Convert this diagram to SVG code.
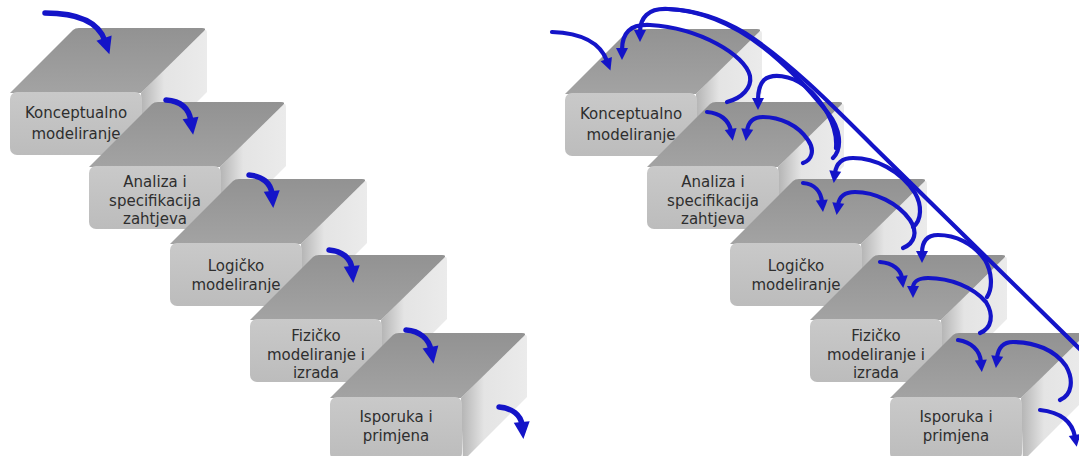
<svg xmlns="http://www.w3.org/2000/svg" width="1079" height="456" viewBox="0 0 1079 456">
<style>
  .lbl { font-family: "DejaVu Sans", "Liberation Sans", sans-serif; font-size: 15px; fill: #2e2e2e; text-anchor: middle; }
  .arr { fill: none; stroke: #1414c8; stroke-width: 5.5; stroke-linecap: round; }
  .arr-s { fill: none; stroke: #1414c8; stroke-width: 4.2; stroke-linecap: round; }
</style>
<defs>
  <linearGradient id="gTop" x1="0" y1="0" x2="0" y2="1">
    <stop offset="0" stop-color="#929292"/>
    <stop offset="1" stop-color="#a3a3a3"/>
  </linearGradient>
  <linearGradient id="gSide" x1="0" y1="0" x2="1" y2="0">
    <stop offset="0" stop-color="#b4b4b4"/>
    <stop offset="0.35" stop-color="#e4e4e4"/>
    <stop offset="1" stop-color="#ebebeb"/>
  </linearGradient>
  <linearGradient id="gFront" x1="0" y1="0" x2="0" y2="1">
    <stop offset="0" stop-color="#c9c9c9"/>
    <stop offset="1" stop-color="#bcbcbc"/>
  </linearGradient>
  <marker id="headL" markerUnits="userSpaceOnUse" markerWidth="18" markerHeight="18" refX="3" refY="8" orient="auto" overflow="visible">
    <path d="M0,0 L17,8 L0,16 Z" fill="#1414c8"/>
  </marker>
  <marker id="headS" markerUnits="userSpaceOnUse" markerWidth="14" markerHeight="14" refX="2" refY="6" orient="auto" overflow="visible">
    <path d="M0,0 L12,6 L0,12 Z" fill="#1414c8"/>
  </marker>
  <!-- one stair block: side face, top face, front face (origin = front top-left) -->
  <g id="block">
    <path d="M131,1 L194,-61 Q197,-64 197,-58 L197,0 L133,64 Z" fill="url(#gSide)"/>
    <path d="M0,1 L63,-62 Q65,-64 69,-64 L192,-64 Q197,-64 194,-61 L131,1 Z" fill="url(#gTop)"/>
    <rect x="0" y="0" width="132" height="63" rx="7" fill="url(#gFront)"/>
  </g>
</defs>

<rect width="1079" height="456" fill="#ffffff"/>

<!-- left staircase -->
<g id="step-l1">
  <use href="#block" transform="translate(10,92)"/>
  <text class="lbl"><tspan x="76" y="118">Konceptualno</tspan><tspan x="76" y="139">modeliranje</tspan></text>
</g>
<g id="step-l2">
  <use href="#block" transform="translate(89,166)"/>
  <text class="lbl"><tspan x="155" y="187">Analiza i</tspan><tspan x="155" y="206">specifikacija</tspan><tspan x="155" y="224">zahtjeva</tspan></text>
</g>
<g id="step-l3">
  <use href="#block" transform="translate(170,243)"/>
  <text class="lbl"><tspan x="236" y="271">Logičko</tspan><tspan x="236" y="290">modeliranje</tspan></text>
</g>
<g id="step-l4">
  <use href="#block" transform="translate(250,319)"/>
  <text class="lbl"><tspan x="316" y="341">Fizičko</tspan><tspan x="316" y="360">modeliranje i</tspan><tspan x="316" y="378">izrada</tspan></text>
</g>
<g id="step-l5">
  <use href="#block" transform="translate(330,397)"/>
  <text class="lbl"><tspan x="396" y="422">Isporuka i</tspan><tspan x="396" y="441">primjena</tspan></text>
</g>

<!-- right staircase -->
<g id="step-r1">
  <use href="#block" transform="translate(565,93)"/>
  <text class="lbl"><tspan x="631" y="119">Konceptualno</tspan><tspan x="631" y="140">modeliranje</tspan></text>
</g>
<g id="step-r2">
  <use href="#block" transform="translate(647,166)"/>
  <text class="lbl"><tspan x="713" y="187">Analiza i</tspan><tspan x="713" y="206">specifikacija</tspan><tspan x="713" y="224">zahtjeva</tspan></text>
</g>
<g id="step-r3">
  <use href="#block" transform="translate(730,243)"/>
  <text class="lbl"><tspan x="796" y="271">Logičko</tspan><tspan x="796" y="290">modeliranje</tspan></text>
</g>
<g id="step-r4">
  <use href="#block" transform="translate(810,319)"/>
  <text class="lbl"><tspan x="876" y="341">Fizičko</tspan><tspan x="876" y="360">modeliranje i</tspan><tspan x="876" y="378">izrada</tspan></text>
</g>
<g id="step-r5">
  <use href="#block" transform="translate(890,397)"/>
  <text class="lbl"><tspan x="956" y="422">Isporuka i</tspan><tspan x="956" y="441">primjena</tspan></text>
</g>

<!-- connectors -->
<g id="connectors">
  <!-- left: forward flow -->
  <path class="arr" marker-end="url(#headL)" d="M45,13 C75,13 98,20 105,41"/>
  <path class="arr" marker-end="url(#headL)" d="M166,100 C180,101 189,108 191,121"/>
  <path class="arr" marker-end="url(#headL)" d="M249,175 C262,176 271,183 272,194"/>
  <path class="arr" marker-end="url(#headL)" d="M329,250 C342,251 351,258 352,269"/>
  <path class="arr" marker-end="url(#headL)" d="M406,330 C420,331 429,339 431,350"/>
  <path class="arr" marker-end="url(#headL)" d="M499,407 C512,408 521,415 522,425"/>

  <!-- right: forward flow -->
  <path class="arr-s" marker-end="url(#headS)" d="M552,32 C580,33 600,42 607,61"/>
  <path class="arr-s" marker-end="url(#headS)" d="M707,112 C720,113 729,120 731,131"/>
  <path class="arr-s" marker-end="url(#headS)" d="M803,183 C815,184 821,192 822,202"/>
  <path class="arr-s" marker-end="url(#headS)" d="M880,262 C893,263 901,270 902,278"/>
  <path class="arr-s" marker-end="url(#headS)" d="M958,340 C971,342 980,350 981,362"/>
  <path class="arr-s" marker-end="url(#headS)" d="M1040,410 C1058,412 1072,420 1075,437"/>

  <!-- right: return loops to the previous step -->
  <path class="arr-s" marker-end="url(#headS)" d="M727,102 C742,98 752,88 750,76 C745,55 700,28 650,25 C630,24 622,33 622,50"/>
  <path class="arr-s" marker-end="url(#headS)" d="M803,163 C812,160 815,150 808,140 C798,125 780,117 763,117 C752,117 748,123 747,131"/>
  <path class="arr-s" marker-end="url(#headS)" d="M903,248 C915,243 918,232 910,220 C898,203 875,192 855,192 C843,192 839,198 838,205"/>
  <path class="arr-s" marker-end="url(#headS)" d="M980,333 C992,328 994,315 986,302 C973,287 950,278 928,278 C917,278 913,283 913,288"/>
  <path class="arr-s" marker-end="url(#headS)" d="M1060,400 C1072,395 1074,380 1066,366 C1055,350 1035,342 1013,342 C1002,342 998,349 997,358"/>

  <!-- right: wider return loops -->
  <path class="arr-s" marker-end="url(#headS)" d="M833,158 C843,148 840,128 828,113 C795,72 740,12 668,9 C648,8 640,18 640,32"/>
  <path class="arr-s" marker-end="url(#headS)" d="M836,148 C838,125 822,100 805,86 C790,75 772,73 764,80 C759,85 758,91 758,100"/>
  <path class="arr-s" marker-end="url(#headS)" d="M913,227 C922,220 922,205 915,193 C900,170 875,158 853,158 C840,158 836,165 835,173"/>
  <path class="arr-s" marker-end="url(#headS)" d="M987,297 C993,288 992,272 985,260 C973,243 955,235 938,235 C926,235 922,243 922,253"/>

  <!-- right: long return line -->
  <path class="arr-s" d="M1095,364 L872,145 C835,108 790,62 745,33 C720,18 695,10 668,9"/>
</g>
</svg>
